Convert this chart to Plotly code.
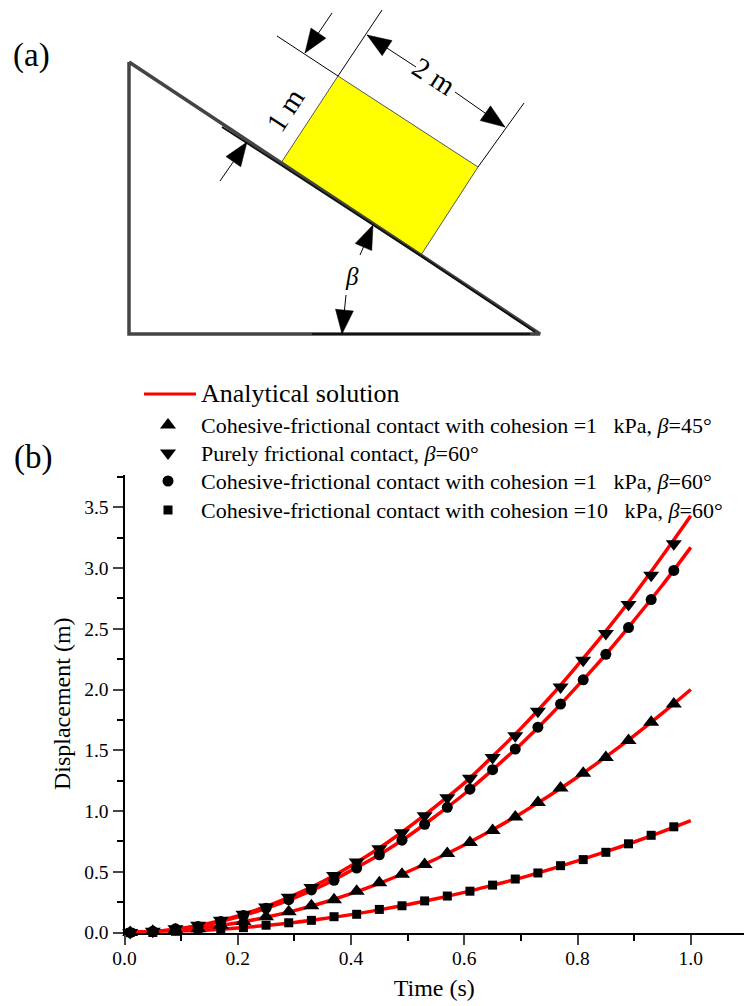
import plotly.graph_objects as go
import math

W, H = 744, 1006
FONT = "Liberation Serif"

# ---------- chart data ----------
t_markers = [0.01,0.05,0.09,0.13,0.17,0.21,0.25,0.29,0.33,0.37,0.41,0.45,0.49,0.53,0.57,0.61,0.65,0.69,0.73,0.77,0.81,0.85,0.89,0.93,0.97]
coh1_b45 = [0.00,0.01,0.02,0.03,0.06,0.09,0.13,0.17,0.22,0.27,0.34,0.41,0.48,0.56,0.65,0.74,0.84,0.95,1.07,1.19,1.31,1.44,1.58,1.73,1.88]
frict_b60 = [0.00,0.01,0.03,0.06,0.10,0.15,0.21,0.29,0.37,0.47,0.58,0.69,0.82,0.96,1.11,1.27,1.44,1.62,1.82,2.02,2.24,2.46,2.70,2.94,3.20]
coh1_b60 = [0.00,0.01,0.03,0.05,0.09,0.14,0.20,0.27,0.35,0.43,0.53,0.64,0.76,0.89,1.03,1.18,1.34,1.51,1.69,1.88,2.08,2.29,2.51,2.74,2.98]
coh10_b60 = [0.00,0.00,0.01,0.02,0.03,0.04,0.06,0.08,0.10,0.13,0.15,0.19,0.22,0.26,0.30,0.34,0.39,0.44,0.49,0.55,0.60,0.66,0.73,0.80,0.87]

t_lines = [0.0,0.05,0.1,0.15,0.2,0.25,0.3,0.35,0.4,0.45,0.5,0.55,0.6,0.65,0.7,0.75,0.8,0.85,0.9,0.95,1.0]
ana_coh1_b45 = [0,0.005,0.02,0.045,0.08,0.125,0.18,0.245,0.32,0.405,0.50,0.605,0.72,0.845,0.98,1.125,1.28,1.445,1.62,1.805,2.00]
ana_frict_b60 = [0,0.009,0.034,0.077,0.137,0.214,0.31,0.42,0.55,0.695,0.86,1.04,1.23,1.45,1.68,1.93,2.20,2.48,2.78,3.10,3.43]
ana_coh1_b60 = [0,0.008,0.032,0.071,0.127,0.198,0.285,0.388,0.51,0.64,0.79,0.96,1.14,1.34,1.55,1.78,2.03,2.29,2.57,2.86,3.17]
ana_coh10_b60 = [0,0.002,0.009,0.021,0.037,0.058,0.083,0.113,0.147,0.186,0.23,0.278,0.33,0.389,0.45,0.518,0.59,0.665,0.745,0.83,0.92]

x_ticks = [0.0,0.2,0.4,0.6,0.8,1.0]
y_ticks = [0.0,0.5,1.0,1.5,2.0,2.5,3.0,3.5]

# ---------- legend ----------
legend_labels = [
    "Cohesive-frictional contact with cohesion =1\u00a0\u00a0\u00a0kPa, <i>β</i>=45°",
    "Purely frictional contact, <i>β</i>=60°",
    "Cohesive-frictional contact with cohesion =1\u00a0\u00a0\u00a0kPa, <i>β</i>=60°",
    "Cohesive-frictional contact with cohesion =10\u00a0\u00a0\u00a0kPa, <i>β</i>=60°",
]
legend_symbols = ["triangle-up","triangle-down","circle","square"]
legend_sizes = [14,14,11,9]
legend_rows = [425,453,481,510]

# ---------- schematic (page pixel space) ----------
wedge_x = [129,129,540,129]
wedge_y = [62,334,334,62]
block_x = [338,478,421,281,338]
block_y = [76,167,255,163,76]
dim_lines = [((277,36),(338,76)),((338,76),(382,10)),((478,167),(524,103)),
             ((367,35),(416,67)),((455,92),(505,127)),
             ((332,13),(305,53)),((220,181),(247,142)),
             ((360,255),(373,225)),((346,295),(342,334))]
dark_edges = [((222,127),(281,165)),((281,165),(421,256)),((421,256),(535,332)),((312,334),(530,334))]
arrow_heads = [((367,35),(416,67)),((505,127),(455,92)),((305,53),(332,13)),
               ((247,142),(220,181)),((373,225),(360,255)),((342,334),(346,295))]

def heads(pairs, length=24, half=9):
    xs, ys = [], []
    for tip, tail in pairs:
        d = math.hypot(tail[0]-tip[0], tail[1]-tip[1])
        ux, uy = (tail[0]-tip[0])/d, (tail[1]-tip[1])/d
        bx, by = tip[0]+ux*length, tip[1]+uy*length
        xs += [tip[0], bx-uy*half, bx+uy*half, tip[0], None]
        ys += [tip[1], by+ux*half, by-ux*half, tip[1], None]
    return xs, ys

def segs(pairs):
    xs, ys = [], []
    for a, b in pairs:
        xs += [a[0], b[0], None]
        ys += [a[1], b[1], None]
    return xs, ys

fig = go.Figure()

# schematic
fig.add_trace(go.Scatter(x=block_x, y=block_y, mode="lines", fill="toself", fillcolor="#ffff00",
                         line=dict(color="#555555", width=1), xaxis="x2", yaxis="y2", hoverinfo="skip"))
fig.add_trace(go.Scatter(x=wedge_x, y=wedge_y, mode="lines", line=dict(color="#444444", width=3.5),
                         xaxis="x2", yaxis="y2", hoverinfo="skip"))
ex, ey = segs(dark_edges)
fig.add_trace(go.Scatter(x=ex, y=ey, mode="lines", line=dict(color="#111111", width=2),
                         xaxis="x2", yaxis="y2", hoverinfo="skip"))
dx, dy = segs(dim_lines)
fig.add_trace(go.Scatter(x=dx, y=dy, mode="lines", line=dict(color="black", width=1),
                         xaxis="x2", yaxis="y2", hoverinfo="skip"))
hx, hy = heads(arrow_heads)
fig.add_trace(go.Scatter(x=hx, y=hy, mode="lines", fill="toself", fillcolor="black",
                         line=dict(color="black", width=0.5), xaxis="x2", yaxis="y2", hoverinfo="skip"))

# analytical lines
for ys in (ana_coh1_b45, ana_frict_b60, ana_coh1_b60, ana_coh10_b60):
    fig.add_trace(go.Scatter(x=t_lines, y=ys, mode="lines",
                             line=dict(color="#ff0000", width=3.5, shape="spline"),
                             cliponaxis=False, name="Analytical solution"))
# numeric markers
for ys, sym, size, lab in zip((coh1_b45, frict_b60, coh1_b60, coh10_b60), legend_symbols, legend_sizes, legend_labels):
    fig.add_trace(go.Scatter(x=t_markers, y=ys, mode="markers", cliponaxis=False, name=lab,
                             marker=dict(symbol=sym, color="black", size=size)))

# hand-placed legend
fig.add_trace(go.Scatter(x=[144,196], y=[394,394], mode="lines", line=dict(color="#ff0000", width=3),
                         xaxis="x2", yaxis="y2", hoverinfo="skip"))
for sym, size, row in zip(legend_symbols, legend_sizes, legend_rows):
    fig.add_trace(go.Scatter(x=[168], y=[row], mode="markers", xaxis="x2", yaxis="y2", hoverinfo="skip",
                             marker=dict(symbol=sym, color="black", size=size)))

def note(x, y, text, size, angle=0, anchor="left"):
    return dict(x=x, y=y, xref="x2", yref="y2", text=text, showarrow=False, xanchor=anchor, yanchor="middle",
                textangle=angle, font=dict(family=FONT, size=size, color="black"))

anns = [note(199, 393, "Analytical solution", 26)]
anns += [note(199, r, l, 22) for l, r in zip(legend_labels, legend_rows)]
anns += [note(11, 55, "(a)", 33), note(12, 457, "(b)", 33),
         note(285, 110, "1 m", 29, -57, "center"), note(434, 76, "2 m", 29, 33, "center"),
         note(352, 276, "<i>β</i>", 25, 0, "center")]

fig.update_layout(
    width=W, height=H, autosize=False, showlegend=False, margin=dict(l=0, r=0, t=0, b=0),
    paper_bgcolor="white", plot_bgcolor="rgba(0,0,0,0)",
    font=dict(family=FONT, color="black"), annotations=anns,
    xaxis=dict(domain=[124.5/W, 1], range=[0, 619.5/566.3], tickvals=x_ticks, ticktext=[f"{v:.1f}" for v in x_ticks],
               ticks="outside", ticklen=10, tickwidth=1.5, showline=True, linecolor="black", linewidth=2,
               showgrid=False, zeroline=False, tickfont=dict(size=19.5, family=FONT), automargin=False, ticklabelstandoff=-3,
               minor=dict(dtick=0.1, tick0=0, ticks="outside", ticklen=6, tickwidth=1.5, tickcolor="black", showgrid=False),
               title=dict(text="Time (s)", font=dict(size=24, family=FONT), standoff=11), anchor="y"),
    yaxis=dict(domain=[(H-932.5)/H, (H-475)/H], range=[0, 457.5/121.5], tickvals=y_ticks, ticktext=[f"{v:.1f}" for v in y_ticks],
               ticks="outside", ticklen=10, tickwidth=1.5, showline=True, linecolor="black", linewidth=2,
               showgrid=False, zeroline=False, tickfont=dict(size=19.5, family=FONT), automargin=False,
               minor=dict(dtick=0.25, tick0=0, ticks="outside", ticklen=6, tickwidth=1.5, tickcolor="black", showgrid=False),
               title=dict(text="Displacement (m)", font=dict(size=24, family=FONT), standoff=7), anchor="x"),
    xaxis2=dict(domain=[0, 1], range=[0, W], visible=False, anchor="y2", fixedrange=True),
    yaxis2=dict(domain=[0, 1], range=[H, 0], visible=False, anchor="x2", fixedrange=True),
)

fig.write_html("out.html", config=dict(displayModeBar=False), post_script="document.body.style.margin='0';")
